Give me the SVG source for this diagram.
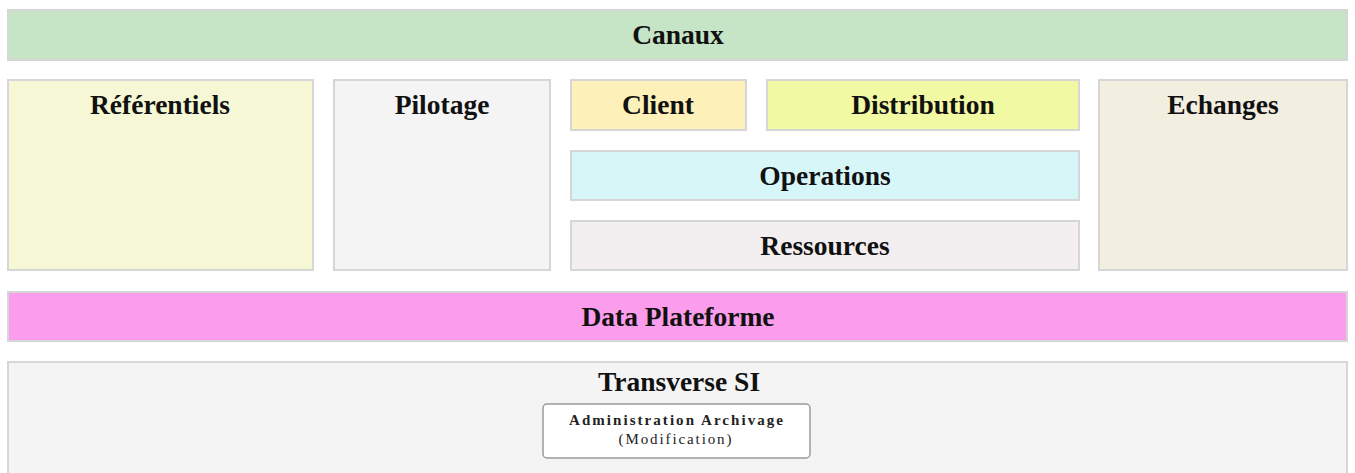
<svg xmlns="http://www.w3.org/2000/svg" width="1355" height="473" viewBox="0 0 1355 473">
<style>
.box{stroke:#d6d6d6;stroke-width:2}
.t{font-family:"Liberation Serif","Times New Roman",serif;font-weight:bold;font-size:27.5px;fill:#111;text-anchor:middle}
.s{font-family:"Liberation Serif","Times New Roman",serif;font-size:15px;fill:#222;text-anchor:middle}
</style>
<rect width="1355" height="473" fill="#ffffff"/>
<g id="canaux"><rect class="box" x="8" y="10" width="1339" height="50" fill="#c6e4c6"/><text class="t" x="678" y="44">Canaux</text></g>
<g id="referentiels"><rect class="box" x="8" y="80" width="305" height="190" fill="#f5f7d5"/><text class="t" x="160" y="114">Référentiels</text></g>
<g id="pilotage"><rect class="box" x="334" y="80" width="216" height="190" fill="#f4f4f4"/><text class="t" x="442" y="114">Pilotage</text></g>
<g id="client"><rect class="box" x="571" y="80" width="175" height="50" fill="#fdf0b8"/><text class="t" x="658" y="114">Client</text></g>
<g id="distribution"><rect class="box" x="767" y="80" width="312" height="50" fill="#f1f9a2"/><text class="t" x="923" y="114">Distribution</text></g>
<g id="operations"><rect class="box" x="571" y="151" width="508" height="49" fill="#d7f6f8"/><text class="t" x="825" y="185">Operations</text></g>
<g id="ressources"><rect class="box" x="571" y="221" width="508" height="49" fill="#f3eeef"/><text class="t" x="825" y="255">Ressources</text></g>
<g id="echanges"><rect class="box" x="1099" y="80" width="248" height="190" fill="#f3efe0"/><text class="t" x="1223" y="114">Echanges</text></g>
<g id="data-plateforme"><rect class="box" x="8" y="292" width="1339" height="49" fill="#fb9dec"/><text class="t" x="678" y="326">Data Plateforme</text></g>
<g id="transverse-si"><rect class="box" x="8" y="362" width="1339" height="120" fill="#f4f4f4"/><text class="t" x="679" y="391">Transverse SI</text></g>
<g id="administration-archivage"><rect x="543" y="404" width="267" height="54" rx="4" fill="#ffffff" stroke="#9a9a9a" stroke-width="1.5"/><text class="s" x="676" y="425" font-weight="bold" textLength="214" lengthAdjust="spacing">Administration Archivage</text><text class="s" x="675" y="444" textLength="113" lengthAdjust="spacing">(Modification)</text></g>
<g id="connectors"/>
</svg>
